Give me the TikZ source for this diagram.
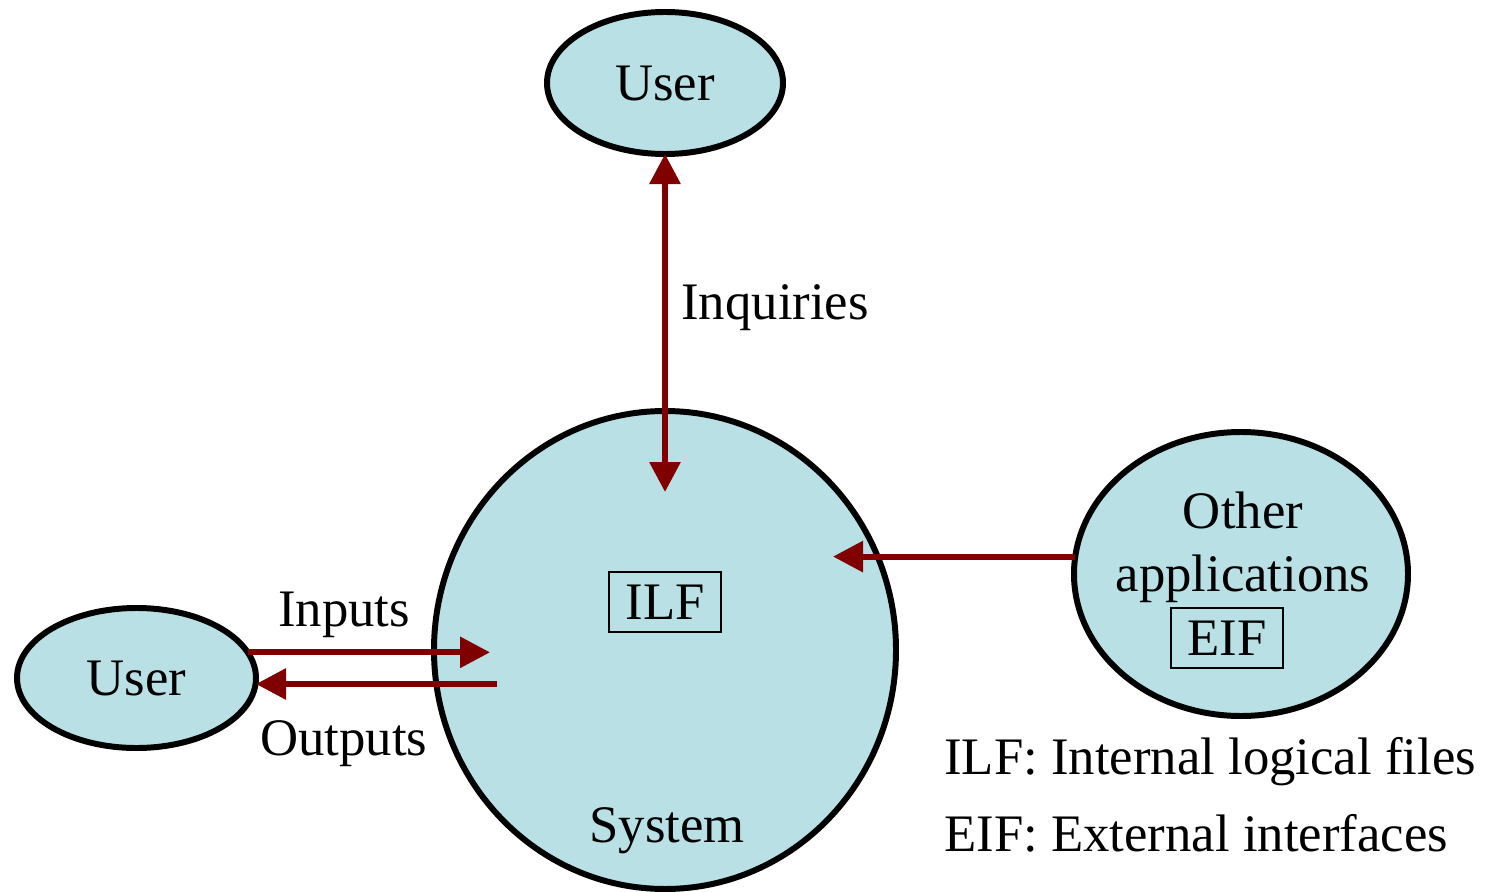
\documentclass[tikz,border=0pt]{standalone}
\usepackage{fontspec}
\setmainfont{Liberation Serif}
\usepackage{xcolor}
\definecolor{fpblue}{HTML}{B9E0E4}
\definecolor{fpred}{HTML}{800000}
\usepackage{tikz}
\usetikzlibrary{shapes.geometric,arrows.meta,positioning,calc}

\begin{document}
\begin{tikzpicture}[node distance=1.78cm,
    font=\fontsize{15}{18}\selectfont,
    fptip/.tip={Triangle[length=0.3cm,width=0.3cm]},
    actor/.style={draw=black, fill=fpblue, ellipse, line width=1.7pt,
                  inner sep=0pt, outer sep=0pt},
    filebox/.style={draw=black, line width=0.6pt, minimum width=1.12cm,
                    minimum height=0.6cm, inner sep=0pt},
    flow/.style={color=fpred, line width=1.7pt}]

  \useasboundingbox (0,0) rectangle (14.86,8.91);

  %% The system under count
  \node[actor, minimum width=4.62cm, minimum height=4.78cm]
    (sys) at (6.65,2.41) {};
  \node (systxt) at ($(sys)+(0.02,-1.81)$) {System};
  \node[filebox] (ilf) at ($(sys)+(0,0.48)$) {ILF};

  %% User on top
  \node[actor, minimum width=2.36cm, minimum height=1.42cm,
        above=2.57cm of sys] (usrT) {User};

  %% User on the left
  \node[actor, minimum width=2.39cm, minimum height=1.40cm,
        left=of sys, yshift=-0.28cm] (usrL) {User};

  %% Other applications on the right
  \node[actor, minimum width=3.34cm, minimum height=2.84cm,
        right=of sys, yshift=0.76cm] (oth) {};
  \node[align=center] (othtxt) at ($(oth)+(0.02,0.27)$)
    {Other\\applications};
  \node[filebox] (eif) at ($(oth)+(-0.14,-0.64)$) {EIF};

  %% Arrow ends inside the system
  \coordinate (inqEnd) at ($(sys)+(0,1.58)$);
  \coordinate (inpEnd) at ($(sys)+(-1.75,0)$);
  \coordinate (outBeg) at ($(sys)+(-1.68,-0.34)$);
  \coordinate (othEnd) at ($(sys)+(1.68,0.95)$);

  %% Arrows
  \draw[flow, fptip-fptip] (usrT.south) -- (inqEnd);
  \draw[flow, -fptip] (usrL.13) -- (usrL.13 -| inpEnd);
  \draw[flow, -fptip] (outBeg) -- (outBeg -| usrL.east);
  \draw[flow, -fptip] (oth.174) -- (oth.174 -| othEnd);

  %% Arrow labels
  \node[anchor=west] (inqtxt) at (6.69,5.83) {Inquiries};
  \node (inptxt) at (3.44,2.76) {Inputs};
  \node (outtxt) at (3.44,1.47) {Outputs};

  %% Legend
  \node[anchor=west] (leg1) at (9.32,1.29) {ILF: Internal logical files};
  \node[anchor=west] (leg2) at (9.32,0.58) {EIF: External interfaces};

\end{tikzpicture}
\end{document}
